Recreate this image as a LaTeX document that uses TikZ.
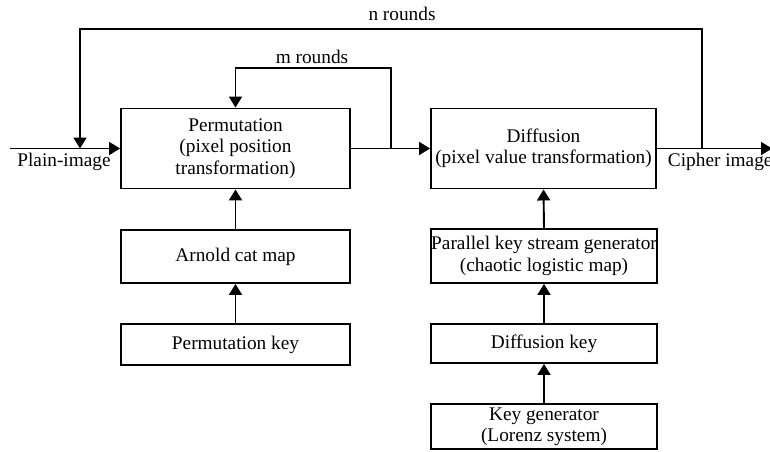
\documentclass[tikz,border=0pt]{standalone}
\usepackage{fontspec}
\setmainfont{Liberation Serif}
\usetikzlibrary{arrows.meta}
\begin{document}
\begin{tikzpicture}[x=1pt,y=-1pt,font=\fontsize{19.3}{21.3}\selectfont,line width=1.9pt,
  block/.style={draw,rectangle,inner sep=0pt,align=center},
  flow/.style={-{Triangle[length=11pt,width=13pt]}}]
\useasboundingbox (0,0) rectangle (770,451);
% left column
\node[block,minimum width=229,minimum height=80] (perm) at (235.5,148.5)
  {Permutation\\(pixel position\\transformation)};
\node[block,minimum width=229,minimum height=53] (arnold) at (235.5,256.5) {Arnold cat map};
\node[block,minimum width=229,minimum height=41] (pkey) at (235.5,344.5) {Permutation key};
% right column
\node[block,minimum width=225,minimum height=80] (diff) at (543.5,148.5)
  {Diffusion\\(pixel value transformation)};
\node[block,minimum width=226,minimum height=54] (pks) at (544,256)
  {Parallel key stream generator\\(chaotic logistic map)};
\node[block,minimum width=226,minimum height=39] (dkey) at (544,343.5) {Diffusion key};
\node[block,minimum width=226,minimum height=45] (kgen) at (544,426.5)
  {Key generator\\(Lorenz system)};
% loop points
\coordinate (in) at (10,148.5);
\coordinate (nin) at (80,148.5);
\coordinate (mtap) at (391,148.5);
\coordinate (mtop) at (391,68);
\coordinate (ntap) at (702,148.5);
\coordinate (ntop) at (702,29);
\coordinate (out) at (772,148.5);
% main flow
\draw[flow] (in) -- (perm.west);
\draw[flow] (perm.east) -- (diff.west);
\draw[flow] (diff.east) -- (out);
\draw[flow] (mtap) -- (mtop) -| (perm.north);
\draw[flow] (ntap) -- (ntop) -| (nin);
% keys
\draw[flow] (arnold.north) -- (perm.south);
\draw[flow] (pkey.north) -- (arnold.south);
\draw[flow] (pks.north) -- (diff.south);
\draw[flow] (dkey.north) -- (pks.south);
\draw[flow] (kgen.north) -- (dkey.south);
% labels
\node (plain) at (64,162) {Plain-image};
\node[anchor=west,inner sep=0pt] (cipher) at (667,162) {Cipher image};
\node (mlab) at (312,57) {m rounds};
\node (nlab) at (402,14) {n rounds};
\end{tikzpicture}
\end{document}
